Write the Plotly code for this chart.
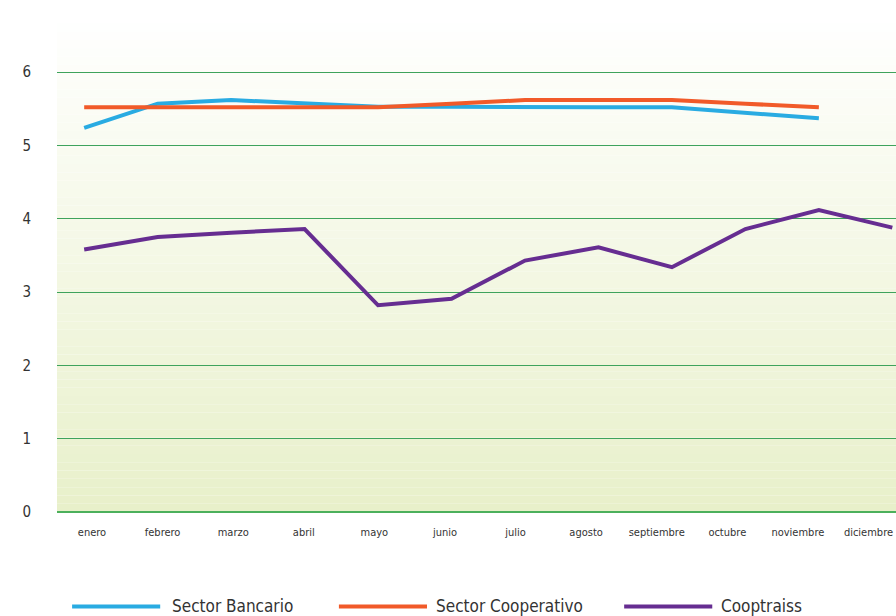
import plotly.graph_objects as go

meses = ["enero", "febrero", "marzo", "abril", "mayo", "junio", "julio",
         "agosto", "septiembre", "octubre", "noviembre", "diciembre"]
sector_bancario = [5.24, 5.57, 5.62, 5.58, 5.53, 5.53, 5.52, 5.52, 5.52, 5.45, 5.37, None]
sector_cooperativo = [5.52, 5.52, 5.52, 5.52, 5.52, 5.57, 5.62, 5.62, 5.62, 5.57, 5.52, None]
cooptraiss = [3.58, 3.75, 3.81, 3.86, 2.82, 2.91, 3.43, 3.61, 3.34, 3.86, 4.12, 3.88]
y_ticks = [0, 1, 2, 3, 4, 5, 6]

series = [
    ("Sector Bancario", sector_bancario, "#29abe2"),
    ("Sector Cooperativo", sector_cooperativo, "#f15a29"),
    ("Cooptraiss", cooptraiss, "#662d91"),
]

FONT = "DejaVu Sans Condensed, Liberation Sans, sans-serif"

fig = go.Figure()
for name, vals, color in series:
    fig.add_trace(go.Scatter(x=meses, y=vals, mode="lines", name=name,
                             line=dict(color=color, width=4),
                             showlegend=False, connectgaps=False))
# invisible carrier trace for the month-label axis
fig.add_trace(go.Scatter(x=meses, y=[None] * len(meses), xaxis="x2",
                         mode="lines", showlegend=False, hoverinfo="skip"))

# background gradient (white at top to pale green at bottom)
shapes = []
n = 60
top = (255, 255, 255)
bot = (232, 240, 202)
for i in range(n):
    t = (i + 0.5) / n
    c = tuple(round(bot[k] + (top[k] - bot[k]) * t) for k in range(3))
    shapes.append(dict(type="rect", xref="paper", yref="paper",
                       x0=0, x1=1, y0=i / n, y1=(i + 1) / n,
                       fillcolor="rgb(%d,%d,%d)" % c, line=dict(width=0),
                       layer="below"))

# manual legend
leg_y = -0.19
leg_items = [(0.018, 0.123, 0.135), (0.336, 0.441, 0.449), (0.676, 0.781, 0.789)]
annotations = []
for (x0, x1, xt), (name, _, color) in zip(leg_items, series):
    shapes.append(dict(type="line", xref="paper", yref="paper",
                       x0=x0, x1=x1, y0=leg_y, y1=leg_y,
                       line=dict(color=color, width=4)))
    annotations.append(dict(xref="paper", yref="paper", x=xt, y=leg_y,
                            text=name, showarrow=False, xanchor="left",
                            yanchor="middle",
                            font=dict(family=FONT, size=17, color="#333333")))

fig.update_layout(
    width=896, height=616,
    margin=dict(l=57, r=0, t=15, b=104, autoexpand=False),
    paper_bgcolor="white",
    plot_bgcolor="rgba(0,0,0,0)",
    shapes=shapes,
    annotations=annotations,
    font=dict(family=FONT, color="#333333"),
    xaxis=dict(type="category", range=[-0.37, 11.05], showgrid=False,
               zeroline=False, showline=False, automargin=False,
               showticklabels=False, ticks=""),
    xaxis2=dict(type="category", overlaying="x", anchor="y", side="bottom",
                categoryorder="array", categoryarray=meses,
                range=[-0.496, 11.39], showgrid=False, zeroline=False,
                showline=False, automargin=False,
                tickfont=dict(size=11, color="#333333"),
                ticks="outside", ticklen=10, tickcolor="rgba(0,0,0,0)"),
    yaxis=dict(range=[0, 6.78], tickvals=y_ticks, showgrid=True,
               gridcolor="#3ea35c", gridwidth=1, automargin=False,
               zeroline=True, zerolinecolor="#4cb05c", zerolinewidth=1.5,
               showline=False,
               tickfont=dict(size=15, color="#333333"),
               ticks="outside", ticklen=22, tickcolor="rgba(0,0,0,0)"),
)

fig.write_html("out.html",
               config={"displayModeBar": False},
               post_script="document.body.style.margin='0';"
                           "document.body.style.overflow='hidden';")
